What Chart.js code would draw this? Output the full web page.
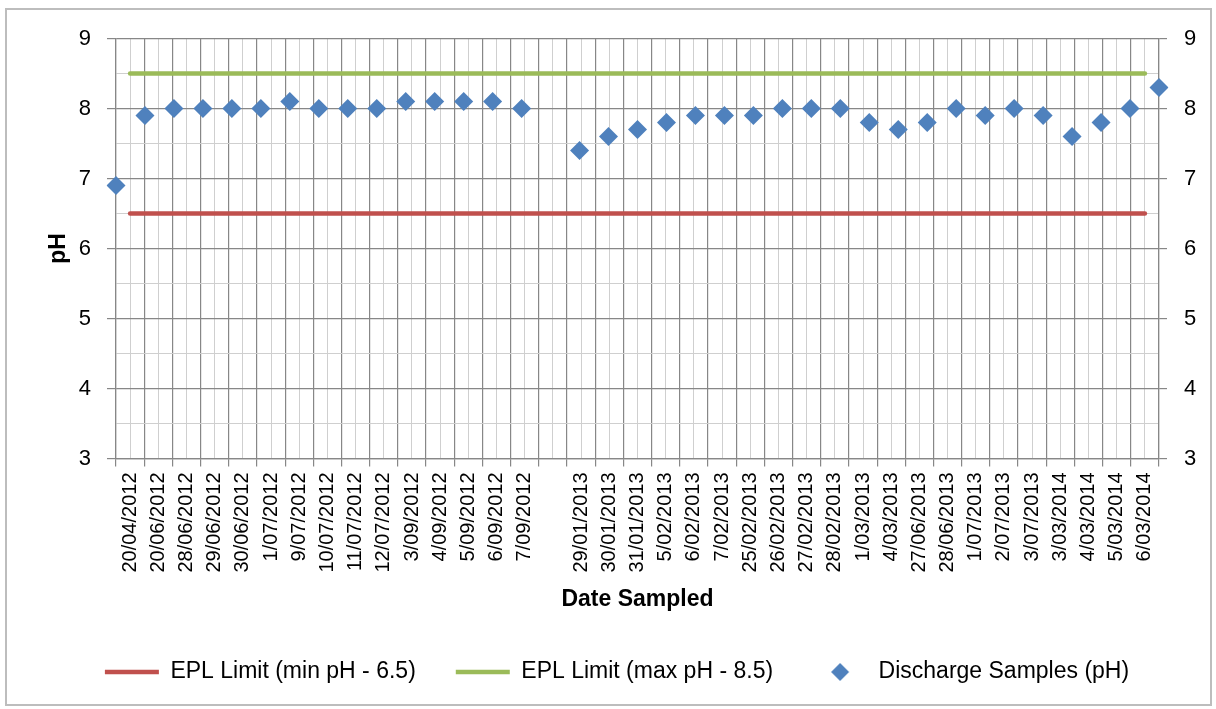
<!DOCTYPE html>
<html>
<head>
<meta charset="utf-8">
<script src="https://cdn.jsdelivr.net/npm/chart.js@4.4.1/dist/chart.umd.min.js"></script>
<style>
  html, body { margin: 0; padding: 0; background: #fff; }
  #wrap { position: relative; width: 1216px; height: 709px; }
  #frame { position: absolute; left: 5px; top: 8px; width: 1207px; height: 698px; box-sizing: border-box; border: 2px solid #bdbdbd; pointer-events: none; }
</style>
</head>
<body>
<div id="wrap">
  <canvas id="MyChart" width="1216" height="709"></canvas>
  <div id="frame"></div>
</div>
<script>
// sample dates (blank slot between the 2012 and 2013 runs)
const dates = ['20/04/2012', '20/06/2012', '28/06/2012', '29/06/2012', '30/06/2012', '1/07/2012', '9/07/2012',
  '10/07/2012', '11/07/2012', '12/07/2012', '3/09/2012', '4/09/2012', '5/09/2012', '6/09/2012', '7/09/2012', '',
  '29/01/2013', '30/01/2013', '31/01/2013', '5/02/2013', '6/02/2013', '7/02/2013', '25/02/2013', '26/02/2013',
  '27/02/2013', '28/02/2013', '1/03/2013', '4/03/2013', '27/06/2013', '28/06/2013', '1/07/2013', '2/07/2013',
  '3/07/2013', '3/03/2014', '4/03/2014', '5/03/2014', '6/03/2014']

const minLimit = [6.5, 6.5, 6.5, 6.5, 6.5, 6.5, 6.5, 6.5, 6.5, 6.5, 6.5, 6.5, 6.5, 6.5, 6.5, 6.5, 6.5, 6.5, 6.5,
  6.5, 6.5, 6.5, 6.5, 6.5, 6.5, 6.5, 6.5, 6.5, 6.5, 6.5, 6.5, 6.5, 6.5, 6.5, 6.5, 6.5, 6.5]
const maxLimit = [8.5, 8.5, 8.5, 8.5, 8.5, 8.5, 8.5, 8.5, 8.5, 8.5, 8.5, 8.5, 8.5, 8.5, 8.5, 8.5, 8.5, 8.5, 8.5,
  8.5, 8.5, 8.5, 8.5, 8.5, 8.5, 8.5, 8.5, 8.5, 8.5, 8.5, 8.5, 8.5, 8.5, 8.5, 8.5, 8.5, 8.5]
const discharge = [6.9, 7.9, 8.0, 8.0, 8.0, 8.0, 8.1, 8.0, 8.0, 8.0, 8.1, 8.1, 8.1, 8.1, 8.0, null,
  7.4, 7.6, 7.7, 7.8, 7.9, 7.9, 7.9, 8.0, 8.0, 8.0, 7.8, 7.7, 7.8, 8.0, 7.9, 8.0, 7.9, 7.6, 7.8, 8.0, 8.3]

const yMin = 3
const yMax = 9

const major = '#878787'
const minor = '#cfcfcf'
const fontName = "'Liberation Sans', Arial, sans-serif"

Chart.defaults.font.family = fontName
Chart.defaults.color = '#000'

// little diamond for the legend
const diamondIcon = document.createElement('canvas')
diamondIcon.width = 20
diamondIcon.height = 20
const dc = diamondIcon.getContext('2d')
dc.fillStyle = '#4F81BD'
dc.beginPath()
dc.moveTo(10, 1); dc.lineTo(19, 10); dc.lineTo(10, 19); dc.lineTo(1, 10)
dc.closePath()
dc.fill()

// keep the legend box short so its wide item padding doesn't eat the plot
const legendHeight = {
  id: 'legendHeight',
  beforeInit(chart) {
    const legend = chart.legend
    if (!legend) return
    const fit = legend.fit
    legend.fit = function () { fit.call(this); this.height = 80 }
  }
}

const ctx = document.getElementById('MyChart')
new Chart(ctx, {
  type: 'line',
  data: {
    labels: dates,
    datasets: [
      {
        label: 'EPL Limit (min pH - 6.5)',
        data: minLimit,
        xAxisID: 'x',
        borderColor: '#C0504D',
        backgroundColor: '#C0504D',
        borderWidth: 4.5,
        borderCapStyle: 'round',
        pointRadius: 0,
        pointStyle: 'line',
        fill: false
      },
      {
        label: 'EPL Limit (max pH - 8.5)',
        data: maxLimit,
        xAxisID: 'x',
        borderColor: '#9BBB59',
        backgroundColor: '#9BBB59',
        borderWidth: 4.5,
        borderCapStyle: 'round',
        pointRadius: 0,
        pointStyle: 'line',
        fill: false
      },
      {
        label: 'Discharge Samples (pH)',
        data: discharge,
        xAxisID: 'x2',
        showLine: false,
        pointStyle: 'rectRot',
        pointRadius: 9.5,
        pointBorderWidth: 0,
        backgroundColor: '#4F81BD',
        borderColor: '#4F81BD'
      }
    ]
  },
  options: {
    responsive: false,
    animation: false,
    events: [],
    layout: { padding: { left: 18, right: 0, top: 38.5, bottom: 8.5 } },
    scales: {
      xm: {
        type: 'category',
        labels: dates,
        position: 'bottom',
        offset: true,
        grid: { offset: false, color: minor, lineWidth: 1, drawTicks: false },
        border: { display: false },
        ticks: { display: false }
      },
      x: {
        type: 'category',
        position: 'bottom',
        offset: true,
        grid: { offset: true, color: major, lineWidth: 1.2, tickLength: 8, tickColor: major },
        border: { color: major, width: 1.2 },
        ticks: { autoSkip: false, minRotation: 90, maxRotation: 90, padding: 6, font: { size: 20 } },
        title: {
          display: true,
          text: 'Date Sampled',
          font: { size: 23, weight: 'bold' },
          padding: { top: 0, bottom: 6.7 }
        },
        afterFit: (s) => { s.height = 162 }
      },
      x2: {
        type: 'category',
        labels: dates,
        offset: false,
        display: false
      },
      y: {
        position: 'left',
        min: yMin,
        max: yMax,
        ticks: {
          stepSize: 0.5,
          padding: 16,
          font: { size: 22 },
          callback: (v) => Number.isInteger(v) ? v : ''
        },
        grid: {
          color: (c) => Number.isInteger(c.tick.value) ? major : minor,
          tickColor: (c) => Number.isInteger(c.tick.value) ? major : 'rgba(0,0,0,0)',
          lineWidth: (c) => Number.isInteger(c.tick.value) ? 1.2 : 1,
          tickLength: 9
        },
        border: { color: major, width: 1.2 },
        title: {
          display: true,
          text: 'pH',
          font: { size: 23, weight: 'bold' },
          padding: { top: 26.7, bottom: 0 }
        },
        afterFit: (s) => { s.width = 98 }
      },
      y2: {
        position: 'right',
        min: yMin,
        max: yMax,
        ticks: { stepSize: 1, padding: 17, font: { size: 22 } },
        grid: { drawOnChartArea: false, color: major, tickLength: 8, lineWidth: 1.2 },
        border: { color: major, width: 1.2 },
        afterFit: (s) => { s.width = 57 }
      }
    },
    plugins: {
      legend: {
        position: 'bottom',
        labels: {
          usePointStyle: true,
          pointStyleWidth: 54,
          padding: 40,
          font: { size: 23 },
          generateLabels(chart) {
            const items = Chart.defaults.plugins.legend.labels.generateLabels(chart)
            items[2].pointStyle = diamondIcon
            return items
          }
        }
      },
      tooltip: { enabled: false }
    }
  },
  plugins: [legendHeight]
})
</script>
</body>
</html>
